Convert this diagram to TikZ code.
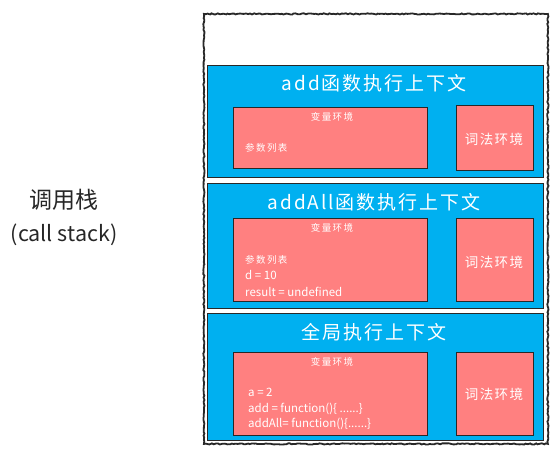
\documentclass[tikz,border=0pt]{standalone}
\usepackage{fontspec}
\setmainfont{Noto Sans CJK SC}
\newfontfamily\spacedfont[LetterSpace=10]{Noto Sans CJK SC}
\newfontfamily\widefont[LetterSpace=15]{Noto Sans CJK SC}
\usetikzlibrary{decorations.pathmorphing}
\definecolor{panelblue}{RGB}{0,176,240}
\definecolor{envpink}{RGB}{255,128,128}
\definecolor{edge}{RGB}{40,40,40}
\tikzset{
  stackbox/.style={draw=edge, line width=1.8pt, decorate,
    decoration={random steps, segment length=2pt, amplitude=0.6pt},
    anchor=north west, inner sep=0pt},
  panel/.style={draw=edge, fill=panelblue, line width=0.9pt, anchor=north west, inner sep=0pt},
  envbox/.style={draw=edge, fill=envpink, line width=0.7pt, anchor=north west, inner sep=0pt},
  ptitle/.style={text=white, font=\spacedfont\fontsize{19}{21}\selectfont, inner sep=0pt},
  small/.style={text=white, font=\widefont\fontsize{9.5}{11}\selectfont, inner sep=0pt},
  code/.style={text=white, font=\fontsize{11.5}{13}\selectfont, inner sep=0pt, anchor=west},
  lex/.style={text=white, font=\spacedfont\fontsize{13.5}{15}\selectfont, inner sep=0pt},
  side/.style={text=black!85, inner sep=0pt}
}
\begin{document}
\begin{tikzpicture}[x=1pt,y=-1pt]
\useasboundingbox (0,0) rectangle (553,456);
% outer stack
\node[stackbox, minimum width=344pt, minimum height=430pt] (stack) at (203,13) {};
% panels
\node[panel, minimum width=336pt, minimum height=112pt] (p1) at (207,65) {};
\node[panel, minimum width=336pt, minimum height=125pt] (p2) at (207,183) {};
\node[panel, minimum width=336pt, minimum height=127pt] (p3) at (207,313) {};
% panel 1
\node[ptitle] (t1) at (374,83) {add函数执行上下文};
\node[envbox, minimum width=194pt, minimum height=61pt] (v1) at (233,107) {};
\node[envbox, minimum width=77pt, minimum height=65pt] (l1) at (456,105) {};
\node[small] (v1t) at (332,117) {变量环境};
\node[small, anchor=west] (v1a) at (245,148) {参数列表};
\node[lex] (l1t) at (494,139) {词法环境};
% panel 2
\node[ptitle] (t2) at (374,202) {addAll函数执行上下文};
\node[envbox, minimum width=194pt, minimum height=83pt] (v2) at (233,218) {};
\node[envbox, minimum width=77pt, minimum height=83pt] (l2) at (456,218) {};
\node[small] (v2t) at (332,228) {变量环境};
\node[small, anchor=west] (v2a) at (245,260) {参数列表};
\node[code] (v2b) at (245,275) {d = 10};
\node[code] (v2c) at (245,292) {result = undefined};
\node[lex] (l2t) at (494,262) {词法环境};
% panel 3
\node[ptitle] (t3) at (374,332) {全局执行上下文};
\node[envbox, minimum width=194pt, minimum height=83pt] (v3) at (233,352) {};
\node[envbox, minimum width=77pt, minimum height=83pt] (l3) at (456,352) {};
\node[small] (v3t) at (332,362) {变量环境};
\node[code] (v3a) at (248,392) {a = 2};
\node[code] (v3b) at (248,409) {add = function()\{ ......\}};
\node[code] (v3c) at (248,424) {addAll= function()\{......\}};
\node[lex] (l3t) at (494,394) {词法环境};
% side label
\node[side, font=\fontsize{23}{26}\selectfont] (s1) at (64,200) {调用栈};
\node[side, font=\fontsize{21.5}{24}\selectfont] (s2) at (64,235) {(call stack)};
\end{tikzpicture}
\end{document}
